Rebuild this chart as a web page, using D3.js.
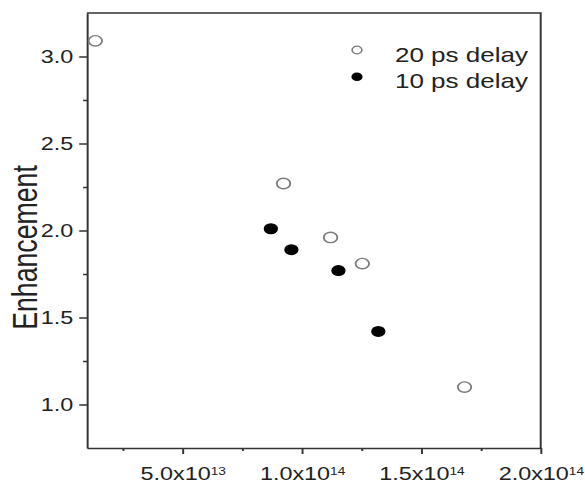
<!DOCTYPE html>
<html>
<head>
<meta charset="utf-8">
<script src="https://cdn.jsdelivr.net/npm/d3@7/dist/d3.min.js"></script>
<style>
  html, body { margin: 0; padding: 0; background: #fff; }
  svg { display: block; }
  text { font-family: "Liberation Sans", Arial, Helvetica, sans-serif; fill: #222; }
</style>
</head>
<body>
<svg id="chart" width="585" height="483"></svg>
<script>
// ---- data ----
const seriesNames = ["20 ps delay", "10 ps delay"];
const delay20X = [1.35e13, 9.23e13, 1.12e14, 1.253e14, 1.681e14];
const delay20Y = [3.09, 2.27, 1.96, 1.81, 1.10];
const delay10X = [8.70e13, 9.56e13, 1.153e14, 1.320e14];
const delay10Y = [2.01, 1.89, 1.77, 1.42];
const xMajorTicks = [5e13, 1e14, 1.5e14, 2e14];
const xMajorMantissa = ["5.0", "1.0", "1.5", "2.0"];
const xMajorExponent = ["13", "14", "14", "14"];
const xMinorTicks = [2.5e13, 7.5e13, 1.25e14, 1.75e14];
const yMajorTicks = [1.0, 1.5, 2.0, 2.5, 3.0];
const yMinorTicks = [1.25, 1.75, 2.25, 2.75];
const yLabel = "Enhancement";

(function () {
// ---- layout (inner coordinates, whole figure stretched horizontally) ----
const SX = 1.3;
const mLeft = 87 / SX, mRight = 540.7 / SX, mTop = 13, mBottom = 448;
const axisColor = "#333";

const svg = d3.select("#chart");
const g = svg.append("g").attr("transform", `scale(${SX},1)`);

const x = d3.scaleLinear().domain([1e13, 2e14]).range([mLeft, mRight]);
const y = d3.scaleLinear().domain([0.75, 3.25]).range([mBottom, mTop]);

// frame (top and right)
g.append("path")
  .attr("d", `M${mLeft},${mTop}H${mRight}V${mBottom}`)
  .attr("fill", "none").attr("stroke", axisColor).attr("stroke-width", 1.5);

// x axis minor
g.append("g").attr("transform", `translate(0,${mBottom})`)
  .call(d3.axisBottom(x).tickValues(xMinorTicks).tickSize(3).tickSizeOuter(0).tickFormat(""))
  .call(s => s.select(".domain").remove())
  .call(s => s.selectAll("line").attr("stroke", axisColor).attr("stroke-width", 1.5));
// x axis major
const xAx = g.append("g").attr("transform", `translate(0,${mBottom})`)
  .call(d3.axisBottom(x).tickValues(xMajorTicks).tickSize(6).tickSizeOuter(0)
        .tickFormat((d, i) => xMajorMantissa[i]));
xAx.select(".domain").attr("stroke", axisColor).attr("stroke-width", 1.5);
xAx.selectAll("line").attr("stroke", axisColor).attr("stroke-width", 1.5);
xAx.selectAll("text").each(function(d, i) {
  const t = d3.select(this);
  t.text(null).attr("y", 32).attr("dy", null)
   .attr("font-size", 18).attr("fill", "#222");
  t.append("tspan").text(xMajorMantissa[i] + "x10");
  t.append("tspan").attr("font-size", 10.5).attr("dy", -5).text(xMajorExponent[i]);
});

// y axis minor
g.append("g").attr("transform", `translate(${mLeft},0)`)
  .call(d3.axisLeft(y).tickValues(yMinorTicks).tickSize(3).tickSizeOuter(0).tickFormat(""))
  .call(s => s.select(".domain").remove())
  .call(s => s.selectAll("line").attr("stroke", axisColor).attr("stroke-width", 1.5));
// y axis major
const yAx = g.append("g").attr("transform", `translate(${mLeft},0)`)
  .call(d3.axisLeft(y).tickValues(yMajorTicks).tickSize(6).tickPadding(4.5).tickSizeOuter(0)
        .tickFormat(d3.format(".1f")));
yAx.select(".domain").attr("stroke", axisColor).attr("stroke-width", 1.5);
yAx.selectAll("line").attr("stroke", axisColor).attr("stroke-width", 1.5);
yAx.selectAll("text").attr("font-size", 18).attr("fill", "#222").attr("dy", "0.36em");

// y label
g.append("text")
  .attr("transform", `translate(${36.7 / SX},${247.5}) rotate(-90)`)
  .attr("text-anchor", "middle")
  .attr("font-size", 26.7)
  .text(yLabel);

// points
const pts20 = delay20X.map((v, i) => ({x: v, y: delay20Y[i]}));
const pts10 = delay10X.map((v, i) => ({x: v, y: delay10Y[i]}));
g.append("g").selectAll("circle").data(pts20).join("circle")
  .attr("cx", d => x(d.x)).attr("cy", d => y(d.y)).attr("r", 5.2)
  .attr("fill", "#fff").attr("stroke", "#7a7a7a").attr("stroke-width", 1.4);
g.append("g").selectAll("circle").data(pts10).join("circle")
  .attr("cx", d => x(d.x)).attr("cy", d => y(d.y)).attr("r", 5.5)
  .attr("fill", "#000");

// legend
const lg = g.append("g");
const legendRows = [
  {name: seriesNames[0], open: true, yy: 50, ty: 62},
  {name: seriesNames[1], open: false, yy: 76.7, ty: 88.5}
];
legendRows.forEach(r => {
  lg.append("circle").attr("cx", 357 / SX).attr("cy", r.yy).attr("r", r.open ? 3.8 : 4.3)
    .attr("fill", r.open ? "#fff" : "#000")
    .attr("stroke", r.open ? "#7a7a7a" : "none").attr("stroke-width", 1.2);
  lg.append("text").attr("x", 395 / SX).attr("y", r.ty).attr("font-size", 20).text(r.name);
});
})();
</script>
</body>
</html>
